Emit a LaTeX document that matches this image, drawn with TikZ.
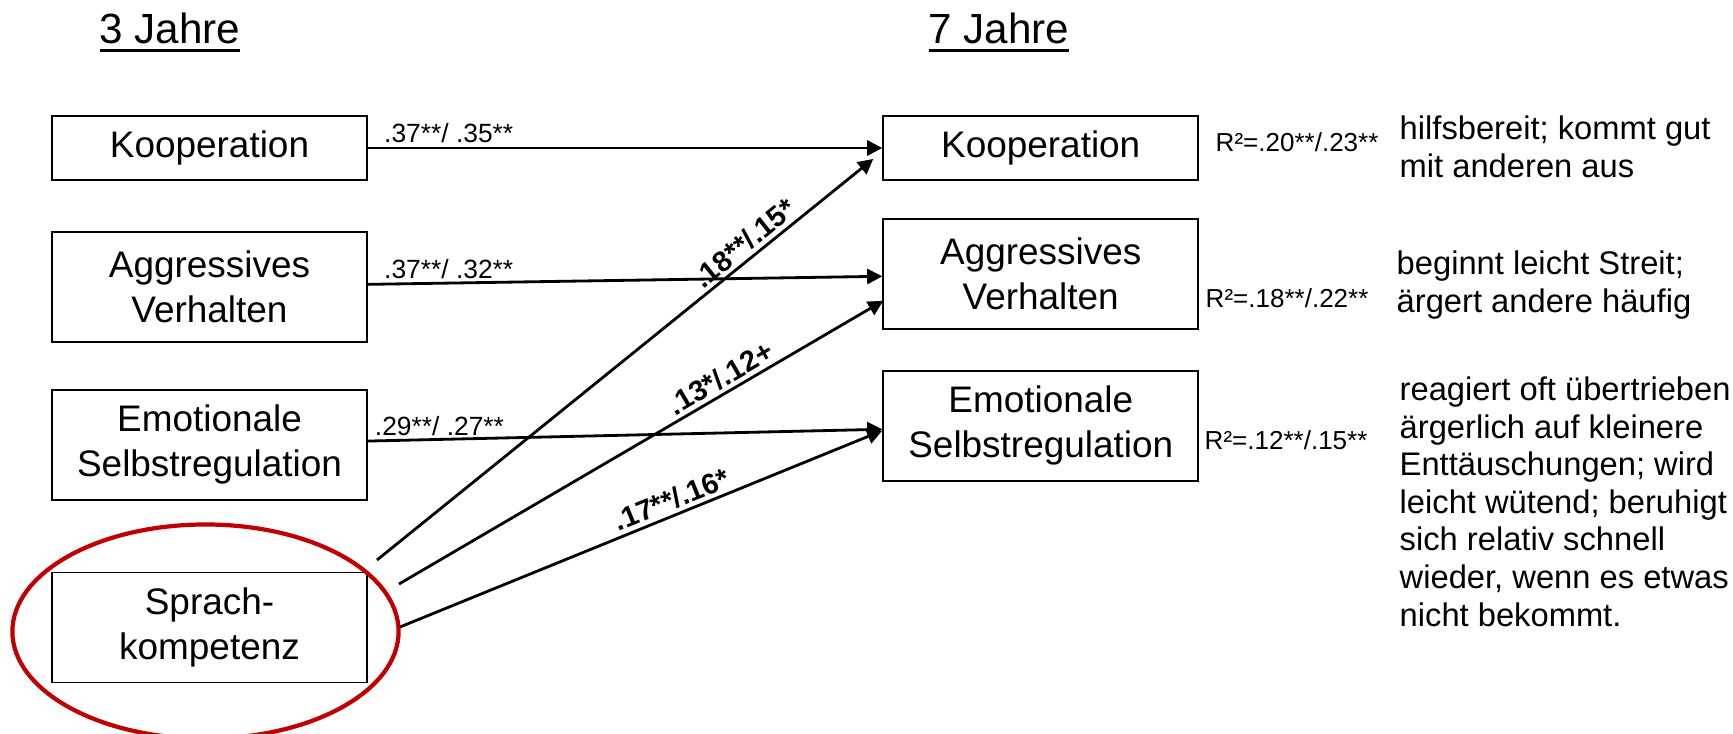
\documentclass[tikz,border=0pt]{standalone}
\usepackage{fontspec}
\setmainfont{Liberation Sans}
\usepackage{tikz}
\usetikzlibrary{arrows.meta, positioning}
\definecolor{ringred}{RGB}{192,0,0}
\newsavebox{\hdbox}
\newcommand{\ulinetext}[1]{\sbox{\hdbox}{#1}\rlap{\rule[-2.3pt]{\wd\hdbox}{0.8pt}}\usebox{\hdbox}}

\begin{document}
\begin{tikzpicture}[
            x=0.01cm, y=-0.01cm,
            node distance=0.5cm,
            varbox/.style={rectangle, draw=black, line width=0.5pt, minimum width=3.15cm, minimum height=0.64cm, align=center, font=\fontsize{10.5}{12.8}\selectfont},
            tallbox/.style={varbox, minimum height=1.1cm},
            heading/.style={font=\fontsize{12}{14}\selectfont, inner sep=0pt},
            coeff/.style={font=\fontsize{7.5}{9}\selectfont, inner sep=1pt},
            boldcoeff/.style={font=\fontsize{8.2}{9}\selectfont\bfseries, inner sep=1pt},
            rsq/.style={font=\fontsize{7.4}{8}\selectfont, inner sep=0pt},
            itemtext/.style={font=\fontsize{9.3}{10.7}\selectfont, align=left, inner sep=0pt},
            redring/.style={draw=ringred, line width=1.2pt},
            arr/.style={-{Triangle[length=4.3pt, width=4.3pt]}, line width=0.8pt},
            ]
            \useasboundingbox (0,0) rectangle (1733,734);

            \node[heading, anchor=base] (h3) at (170,44) {\ulinetext{3 Jahre}};
            \node[heading, anchor=base] (h7) at (999,44) {\ulinetext{7 Jahre}};

            \node[varbox]    (ko3) at (209.5,148) {Kooperation};
            \node[tallbox]   (ag3) [below=0.5cm of ko3] {Aggressives\\Verhalten};
            \node[tallbox]   (em3) [below=0.46cm of ag3] {Emotionale\\Selbstregulation};
            \node[tallbox]   (sp3) [below=0.71cm of em3] {Sprach-\\kompetenz};

            \node[varbox]    (ko7) [right=5.14cm of ko3] {Kooperation};
            \node[tallbox]   (ag7) [below=0.37cm of ko7] {Aggressives\\Verhalten};
            \node[tallbox]   (em7) [below=0.4cm of ag7] {Emotionale\\Selbstregulation};

            \draw[redring] ([shift={(-4,4)}]sp3.center) ellipse [x radius=1.93cm, y radius=1.07cm];

            \node[rsq, anchor=base west] (r2ko) at (1215,152) {R²=.20**/.23**};
            \node[rsq, anchor=base west] (r2ag) at (1205,308) {R²=.18**/.22**};
            \node[rsq, anchor=base west] (r2em) at (1204,450) {R²=.12**/.15**};

            \node[itemtext, anchor=north west] (dko) at (1399,115) {hilfsbereit; kommt gut\\mit anderen aus};
            \node[itemtext, anchor=north west] (dag) at (1396,250) {beginnt leicht Streit;\\ärgert andere häufig};
            \node[itemtext, anchor=north west] (dem) at (1399,376) {reagiert oft übertrieben\\ärgerlich auf kleinere\\Enttäuschungen; wird\\leicht wütend; beruhigt\\sich relativ schnell\\wieder, wenn es etwas\\nicht bekommt.};

            \coordinate (s1) at (377,560);
            \coordinate (s2) at (399,584);
            \coordinate (s3) at (400,627);
            \coordinate (e1) at ([shift={(-9,-22)}]ko7.south west);
            \coordinate (e2) at ([shift={(1,27)}]ag7.west);
            \coordinate (e3) at ([shift={(0,5)}]em7.west);

            \draw[arr] (ko3) -- node[coeff, pos=0.022, anchor=south west] {.37**/ .35**} (ko7);
            \draw[arr] (ag3) -- node[coeff, pos=0.022, anchor=south west] {.37**/ .32**} (ag7);
            \draw[arr] (em3) -- node[coeff, pos=0.004, anchor=south west] {.29**/ .27**} (em7);
            \draw[arr] (s1) -- node[boldcoeff, pos=0.76, above, sloped] {.18**/.15*} (e1);
            \draw[arr] (s2) -- node[boldcoeff, pos=0.68, above, sloped] {.13*/.12+} (e2);
            \draw[arr] (s3) -- node[boldcoeff, pos=0.575, above, sloped] {.17**/.16*} (e3);
        \end{tikzpicture}
\end{document}
